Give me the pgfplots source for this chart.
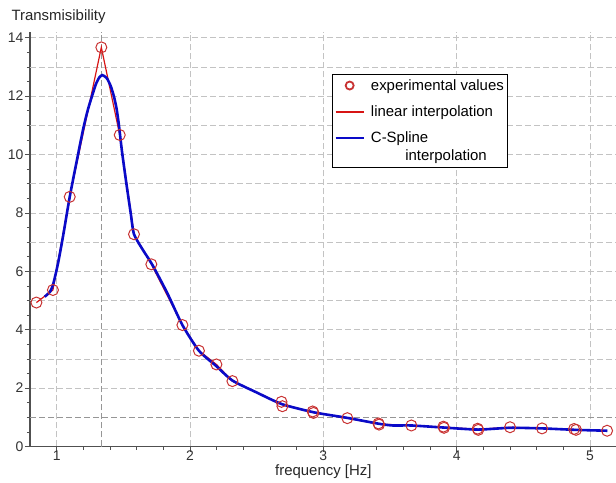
\documentclass[border=0pt]{standalone}
\usepackage{fontspec}
\setmainfont{Liberation Sans}
\usepackage{pgfplots}
\pgfplotsset{compat=1.18}
\definecolor{gridgray}{RGB}{195,195,195}
\definecolor{markgray}{RGB}{150,150,150}
\definecolor{circred}{RGB}{200,50,50}
\definecolor{linered}{RGB}{215,20,20}
\definecolor{splineblue}{RGB}{10,10,200}
\definecolor{axgray}{RGB}{80,80,80}
\begin{document}
\begin{tikzpicture}
\begin{axis}[
  at={(0,0)}, anchor=south west,
  scale only axis, width=586.7bp, height=414.6bp,
  xmin=0.8, xmax=5.2, ymin=0, ymax=14.2,
  axis x line=bottom, axis y line=left,
  axis line style={-, axgray, line width=1.2bp},
  xtick={1,2,3,4,5}, minor x tick num=4,
  ytick={0,2,...,14}, minor y tick num=3,
  extra y ticks={1,3,...,13}, extra y tick labels={},
  extra y tick style={ymajorgrids=true, major tick length=3bp},
  tick align=outside, major tick length=5bp, minor tick length=3bp,
  tick style={axgray, line width=0.8bp},
  xmajorgrids=true, ymajorgrids=true,
  major grid style={gridgray, dash pattern=on 6bp off 3bp, line width=0.8bp},
  /pgf/number format/assume math mode=true,
  tick label style={font=\fontsize{14}{16}\selectfont, text=black!80},
  yticklabel style={xshift=2bp},
  xticklabel style={yshift=4bp},
  every axis y label/.style={at={(rel axis cs:0,1)}, anchor=base west, xshift=-22bp, yshift=11bp},
  every axis x label/.style={at={(rel axis cs:0.5,0)}, anchor=north, yshift=-15bp},
  label style={font=\fontsize{15}{17}\selectfont, text=black!85},
  xlabel={frequency [Hz]},
  ylabel={Transmisibility},
  legend style={at={(rel axis cs:0.5147,0.8985)}, anchor=north west, draw=black, line width=0.8bp,
    font=\fontsize{15}{18}\selectfont, cells={anchor=west, align=left}, row sep=10bp,
    column sep=4bp, inner xsep=2bp, inner ysep=3bp},
]
\addplot[forget plot, markgray, dash pattern=on 6bp off 3bp, line width=1bp] coordinates {(1.335,0) (1.335,14.2)};
\addplot[forget plot, markgray, dash pattern=on 6bp off 3bp, line width=1bp] coordinates {(0.8,1) (5.2,1)};
\addplot[only marks, mark=o, mark size=5.5bp, circred, line width=1bp,
  legend image code/.code={\draw[circred, line width=1.8bp] (14bp,0bp) circle[radius=4bp];}] coordinates {
(0.848,4.93) (0.972,5.36) (1.098,8.55) (1.335,13.67) (1.473,10.67) (1.580,7.27)
(1.710,6.24) (1.943,4.16) (2.067,3.28) (2.198,2.81) (2.318,2.24) (2.686,1.53)
(2.693,1.38) (2.920,1.20) (2.926,1.15) (3.180,0.97) (3.413,0.79) (3.418,0.75)
(3.660,0.72) (3.900,0.68) (3.905,0.64) (4.157,0.61) (4.162,0.57) (4.400,0.66)
(4.640,0.62) (4.880,0.60) (4.895,0.57) (5.128,0.54)
};
\addlegendentry{experimental values}
\addplot[linered, line width=1.2bp, no marks,
  legend image code/.code={\draw[linered, line width=1.6bp] (0bp,0bp) -- (28bp,0bp);}] coordinates {
(0.848,4.93) (0.972,5.36) (1.098,8.55) (1.335,13.67) (1.473,10.67) (1.580,7.27)
(1.710,6.24) (1.943,4.16) (2.067,3.28) (2.198,2.81) (2.318,2.24) (2.690,1.45)
(2.923,1.17) (3.180,0.97) (3.415,0.77) (3.660,0.72) (3.903,0.66) (4.160,0.59)
(4.400,0.66) (4.640,0.62) (4.888,0.58) (5.128,0.54)
};
\addlegendentry{linear interpolation}
\addplot[splineblue, line width=2.6bp, no marks, smooth, tension=0.4,
  legend image code/.code={\draw[splineblue, line width=2.6bp] (0bp,9bp) -- (28bp,9bp);}] coordinates {
(0.91,5.13) (0.95,5.30) (0.975,5.58) (1.01,6.27) (1.047,7.18) (1.098,8.55)
(1.148,9.72) (1.20,10.9) (1.235,11.55) (1.265,12.0) (1.295,12.42) (1.32,12.64)
(1.342,12.72) (1.375,12.62) (1.405,12.35) (1.43,11.98) (1.45,11.55) (1.467,11.0)
(1.49,10.1) (1.523,9.0) (1.555,8.0) (1.58,7.27)
(1.647,6.73) (1.718,6.22) (1.83,5.25) (1.943,4.16) (2.067,3.28) (2.198,2.75)
(2.318,2.26) (2.50,1.85) (2.69,1.45) (2.93,1.17) (3.18,0.98) (3.415,0.78)
(3.52,0.72) (3.66,0.72) (3.90,0.65) (4.16,0.58) (4.40,0.64) (4.64,0.62)
(4.89,0.57) (5.13,0.54)
};
\addlegendentry{C-Spline\\\hspace*{2.3em}interpolation}
\end{axis}
\pgfresetboundingbox
\useasboundingbox (-30bp,-36.5bp) rectangle (586bp,446.5bp);
\end{tikzpicture}
\end{document}
